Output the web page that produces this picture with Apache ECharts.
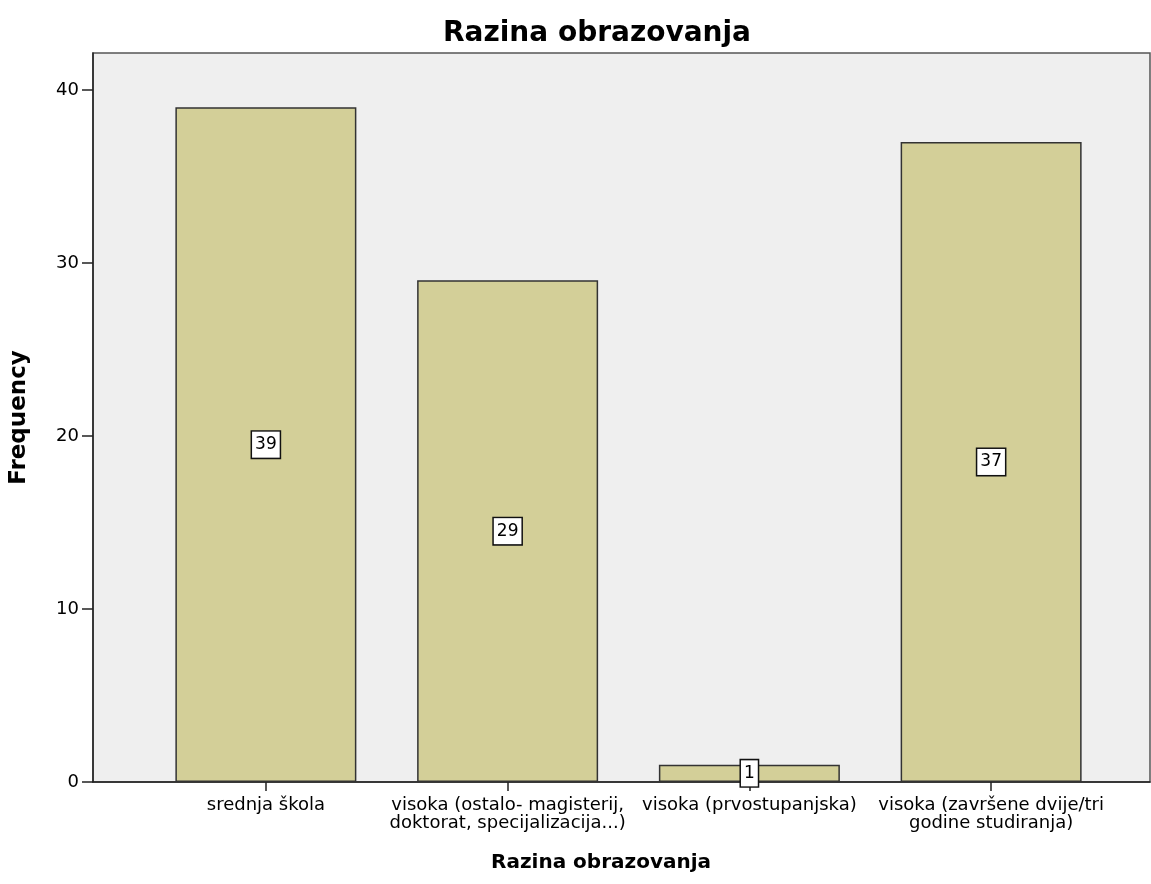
<!DOCTYPE html>
<html>
<head>
    <meta charset="utf-8" />
    <title>Razina obrazovanja</title>
    <script src="https://cdn.jsdelivr.net/npm/echarts@6/dist/echarts.min.js"></script>
    <style>
        html, body { margin: 0; padding: 0; background: #fff; }
        #container { width: 1151px; height: 884px; }
    </style>
</head>
<body>
    <div id="container"></div>
    <script>
    // podaci
    var categories = [
        'srednja škola',
        'visoka (ostalo- magisterij,\ndoktorat, specijalizacija...)',
        'visoka (prvostupanjska)',
        'visoka (završene dvije/tri\ngodine studiranja)'
    ];
    var frequency = [39, 29, 1, 37];
    var yTicks = [0, 10, 20, 30, 40];
    var yMax = 42.14;

    var font = 'DejaVu Sans';
    var myChart = echarts.init(document.getElementById('container'));
    var option = {
        backgroundColor: '#ffffff',
        animation: false,
        title: [
            {
                text: 'Razina obrazovanja',
                left: 592, top: 15, textAlign: 'center',
                textStyle: { fontFamily: font, fontSize: 28, fontWeight: 'bold', color: '#000' }
            },
            {
                text: 'Razina obrazovanja',
                left: 596, top: 848, textAlign: 'center',
                textStyle: { fontFamily: font, fontSize: 20, fontWeight: 'bold', color: '#000' }
            }
        ],
        grid: [
            // okvir s pozadinom
            { left: 93, right: 1, top: 53, bottom: 102, show: true,
              backgroundColor: '#efefef', borderColor: '#555', borderWidth: 1.5 },
            // stupci
            { left: 145, right: 39, top: 53, bottom: 102 }
        ],
        xAxis: [
            {
                gridIndex: 0, type: 'value', min: 0, max: 1,
                axisLine: { show: true, onZero: false, lineStyle: { color: '#222', width: 1.5 } },
                axisTick: { show: false }, axisLabel: { show: false }, splitLine: { show: false }
            },
            {
                gridIndex: 1, type: 'category', data: categories,
                axisLine: { show: false },
                axisTick: { show: true, alignWithLabel: true, length: 9, lineStyle: { color: '#222', width: 1.5 } },
                axisLabel: { interval: 0, hideOverlap: false, margin: 14, fontFamily: font, fontSize: 18,
                             color: '#000', lineHeight: 18 }
            }
        ],
        yAxis: [
            {
                gridIndex: 0, type: 'value', min: 0, max: yMax,
                name: 'Frequency', nameLocation: 'middle', nameRotate: 90, nameGap: 62,
                nameTextStyle: { fontFamily: font, fontSize: 23, fontWeight: 'bold', color: '#000' },
                axisLine: { show: true, lineStyle: { color: '#222', width: 1.5 } },
                axisTick: { show: true, length: 11, customValues: yTicks, lineStyle: { color: '#222', width: 1.5 } },
                axisLabel: { margin: 14, customValues: yTicks, fontFamily: font, fontSize: 18, color: '#000' },
                splitLine: { show: false }
            },
            {
                gridIndex: 1, type: 'value', min: 0, max: yMax, show: false,
                splitLine: { show: false }
            }
        ],
        series: [
            {
                type: 'bar',
                xAxisIndex: 1, yAxisIndex: 1,
                data: frequency,
                barWidth: 181,
                itemStyle: { color: '#d3cf98', borderColor: '#333', borderWidth: 1.5 },
                label: {
                    show: true, position: 'inside',
                    fontFamily: font, fontSize: 17, color: '#000',
                    backgroundColor: '#fff', borderColor: '#111', borderWidth: 1.5,
                    padding: [5, 3, 4, 3]
                }
            }
        ]
    };
    myChart.setOption(option);
    </script>
</body>
</html>
